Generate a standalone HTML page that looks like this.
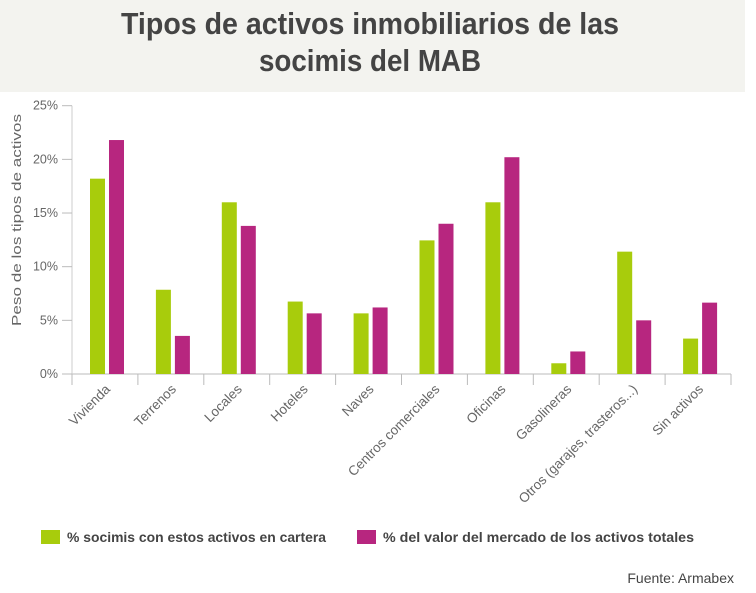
<!DOCTYPE html>
<html><head><meta charset="utf-8"><style>
body{margin:0;background:#fff;width:756px;height:588px;overflow:hidden;font-family:"Liberation Sans",sans-serif}
</style></head><body>
<svg id="chart" width="756" height="588" xmlns="http://www.w3.org/2000/svg">
<rect x="0" y="0" width="745" height="92" fill="#f3f3ef"/>
<text x="370" y="34" text-anchor="middle" font-family="Liberation Sans Narrow, Liberation Sans, sans-serif" font-weight="bold" font-size="31" fill="#444" textLength="498" lengthAdjust="spacingAndGlyphs">Tipos de activos inmobiliarios de las</text>
<text x="370" y="71" text-anchor="middle" font-family="Liberation Sans Narrow, Liberation Sans, sans-serif" font-weight="bold" font-size="31" fill="#444" textLength="222" lengthAdjust="spacingAndGlyphs">socimis del MAB</text>
<text transform="translate(21,220) rotate(-90)" text-anchor="middle" font-size="13" fill="#666" textLength="212" lengthAdjust="spacingAndGlyphs">Peso de los tipos de activos</text>
<g id="axes"></g><g id="bars"></g><g id="labels"></g>
<g>
<rect x="41" y="530" width="19" height="14" fill="#a8cc0c"/>
<text x="67" y="542" font-size="14" font-weight="bold" fill="#444" textLength="259" lengthAdjust="spacingAndGlyphs">% socimis con estos activos en cartera</text>
<rect x="357" y="530" width="19" height="14" fill="#b7267f"/>
<text x="383" y="542" font-size="14" font-weight="bold" fill="#444" textLength="311" lengthAdjust="spacingAndGlyphs">% del valor del mercado de los activos totales</text>
</g>
<text x="734" y="583" text-anchor="end" font-size="14" fill="#444">Fuente: Armabex</text>
</svg>
<script>
const categories=["Vivienda","Terrenos","Locales","Hoteles","Naves","Centros comerciales","Oficinas","Gasolineras","Otros (garajes, trasteros...)","Sin activos"];
const greenValues=[18.2,7.85,16.0,6.75,5.65,12.45,16.0,1.0,11.4,3.3];
const magentaValues=[21.8,3.55,13.8,5.65,6.2,14.0,20.2,2.1,5.0,6.65];
const yTicks=[0,5,10,15,20,25];
const yTickLabels=["0%","5%","10%","15%","20%","25%"];
const NS="http://www.w3.org/2000/svg";
const x0=72,x1=731,y0=374,yTop=105.7,yMax=25;
const bw=(x1-x0)/categories.length;
function y(v){return y0-(y0-yTop)*v/yMax;}
function mk(tag,attrs,parent){const e=document.createElementNS(NS,tag);for(const k in attrs)e.setAttribute(k,attrs[k]);document.getElementById(parent).appendChild(e);return e;}
let ax=mk('line',{x1:x0,y1:y0,x2:x1,y2:y0,stroke:'#bbb','stroke-width':1},'axes');


let ay=mk('line',{x1:x0,y1:yTop,x2:x0,y2:y0,stroke:'#ccc','stroke-width':1},'axes');


yTicks.forEach((t,i)=>{
 let l=mk('line',{x1:x0-10,y1:y(t),x2:x0,y2:y(t),stroke:'#bbb'},'axes');
 
 
 let tx=mk('text',{x:x0-14,y:y(t)+4,'text-anchor':'end','font-size':12.5,fill:'#666'},'axes');
 tx.textContent=yTickLabels[i];
 
 
});
for(let i=0;i<=categories.length;i++){
 let l=mk('line',{x1:x0+i*bw,y1:y0,x2:x0+i*bw,y2:y0+11,stroke:'#bbb'},'axes');
 
 
}
categories.forEach((c,i)=>{
 const gx=x0+i*bw+18;
 let g=mk('rect',{x:gx,y:y(greenValues[i]),width:15,height:y0-y(greenValues[i]),fill:'#a8cc0c'},'bars');
 
 
 let m=mk('rect',{x:gx+19,y:y(magentaValues[i]),width:15,height:y0-y(magentaValues[i]),fill:'#b7267f'},'bars');
 
 
 const cx=x0+i*bw+bw/2+6;
 let t=mk('text',{x:0,y:0,transform:`translate(${cx},390) rotate(-45)`,'text-anchor':'end','font-size':13.5,fill:'#666'},'labels');
 t.textContent=c;
 
 
});
</script>
</body></html>
